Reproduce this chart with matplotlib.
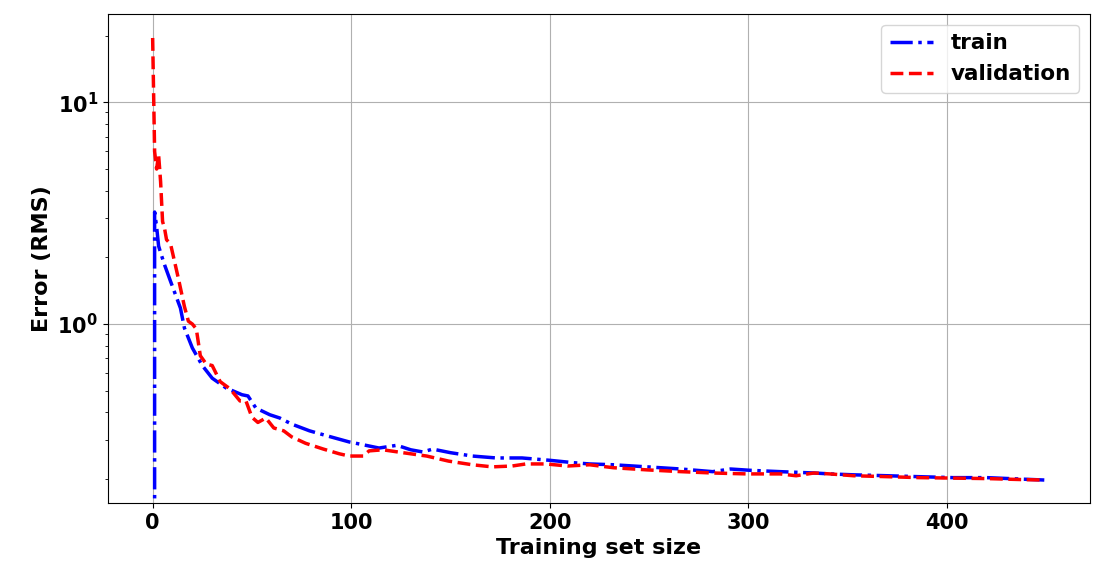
"""Learning curve: train vs validation RMS error against training set size."""

import matplotlib
matplotlib.use("Agg")
import matplotlib.pyplot as plt

matplotlib.rcParams.update({
    "font.size": 15,
    "font.weight": "bold",
    "axes.labelweight": "bold",
    "axes.labelsize": 16,
    "xtick.labelsize": 15,
    "ytick.labelsize": 15,
    "legend.fontsize": 15.5,
})

# ── Data ──────────────────────────────────────────────────────────────────
train_x = [0, 1, 2, 3, 4, 6, 9, 14, 16, 20, 25, 30, 37, 45, 48, 52, 59, 64,
           70, 79, 88, 99, 104, 114, 123, 130, 136, 141, 150, 161, 173, 186,
           200, 212, 220, 232, 249, 266, 282, 291, 301, 316, 333, 341, 353,
           370, 386, 403, 420, 437, 449]
train_err = [0, 3.2, 2.75, 2.25, 2.1, 1.85, 1.56, 1.18, 0.96, 0.78, 0.65,
             0.57, 0.515, 0.48, 0.474, 0.418, 0.39, 0.377, 0.354, 0.33, 0.313,
             0.294, 0.288, 0.276, 0.284, 0.271, 0.265, 0.273, 0.263, 0.254,
             0.249, 0.249, 0.243, 0.237, 0.234, 0.232, 0.227, 0.222, 0.216,
             0.222, 0.219, 0.216, 0.213, 0.211, 0.209, 0.207, 0.205, 0.203,
             0.203, 0.2, 0.198]

val_x = [0, 1, 2, 3, 4, 5, 6, 7, 9, 13, 16, 18, 20, 22, 24, 27, 30, 34, 39,
         44, 47, 50, 53, 57, 61, 66, 70, 77, 86, 94, 99, 106, 109, 116, 126,
         138, 149, 161, 171, 181, 188, 198, 209, 220, 232, 249, 266, 282, 299,
         316, 324, 333, 341, 353, 370, 386, 403, 420, 437, 449]
val_err = [19.5, 6.0, 5.0, 5.8, 4.4, 2.9, 2.7, 2.4, 2.3, 1.6, 1.2, 1.03, 1.0,
           0.95, 0.72, 0.66, 0.65, 0.55, 0.51, 0.45, 0.45, 0.38, 0.36, 0.377,
           0.34, 0.33, 0.31, 0.29, 0.273, 0.26, 0.254, 0.254, 0.268, 0.271,
           0.263, 0.254, 0.241, 0.232, 0.227, 0.229, 0.234, 0.234, 0.229,
           0.232, 0.225, 0.22, 0.216, 0.213, 0.211, 0.211, 0.207, 0.213, 0.211,
           0.207, 0.205, 0.203, 0.202, 0.201, 0.199, 0.198]

fig = plt.figure(figsize=(10.96, 5.62), dpi=100)
ax = fig.add_axes([0.0985, 0.105, 0.896, 0.870])

ax.plot(train_x, train_err, "b-.", linewidth=2.5, label="train")
ax.plot(val_x, val_err, "r--", linewidth=2.5, label="validation")

ax.set_yscale("log")
ax.set_ylim(0.156, 25)
ax.set_xlim(-22.5, 472)
ax.set_xlabel("Training set size")
ax.set_ylabel("Error (RMS)")
ax.grid(True)
ax.legend(loc="upper right")

fig.savefig("out.png")
